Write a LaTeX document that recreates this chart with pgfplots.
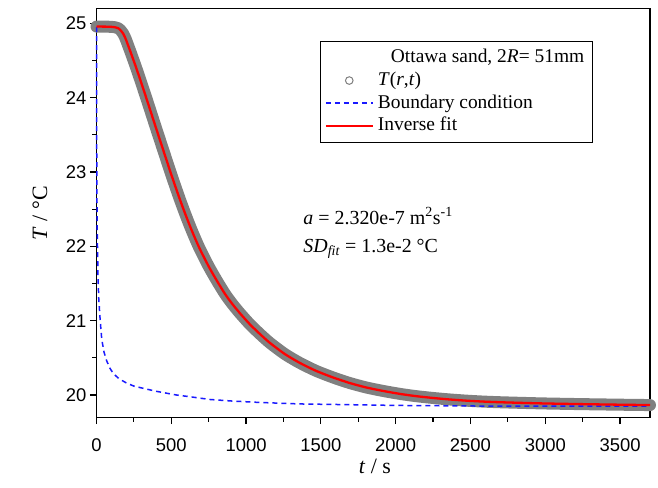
\documentclass[border=0pt]{standalone}
\usepackage{fontspec}
\setmainfont{Liberation Serif}
\newfontfamily\arial{Liberation Sans}
\usepackage{pgfplots}
\pgfplotsset{compat=1.18}
\definecolor{bcblue}{RGB}{25,25,255}
\pgfplotsset{
    seglegend/.style={legend image code/.code={\draw[##1] (0bp,0bp) -- (47bp,0bp);}},
    ringlegend/.style={legend image code/.code={\draw[##1] (23.5bp,0bp) circle (3.8bp);}},
}

\pgfplotstableread{
t T
0 24.957
60 24.956
100 24.953
125 24.947
145 24.935
162 24.905
179 24.86
190 24.815
201 24.76
212 24.70
224 24.635
257 24.45
291 24.25
324 24.05
358 23.84
403 23.56
447 23.29
491 23.02
525 22.818
558 22.628
592 22.443
625 22.272
659 22.108
692 21.96
750 21.73
804 21.54
859 21.36
906 21.23
959 21.10
1026 20.95
1093 20.82
1160 20.70
1260 20.55
1361 20.43
1468 20.325
1583 20.235
1695 20.16
1807 20.10
1916 20.055
2029 20.015
2136 19.985
2252 19.96
2363 19.94
2475 19.924
2584 19.912
2698 19.903
2965 19.888
3233 19.878
3500 19.870
3700 19.865
}\fitdata

\pgfplotstableread{
t T
0 24.95
2 22.9
5 22.2
10 21.6
15 21.3
23 21.05
35 20.75
50 20.58
68 20.46
90 20.36
112 20.29
150 20.22
202 20.16
250 20.12
313 20.09
400 20.05
536 20.00
650 19.97
759 19.94
900 19.92
1093 19.90
1360 19.88
1700 19.87
2000 19.86
2700 19.85
3700 19.85
}\bcdata

\begin{document}
\begin{tikzpicture}
\begin{axis}[
    scale only axis,
    width=553.5bp, height=409.2bp,
    xmin=0, xmax=3700,
    ymin=19.695, ymax=25.2,
    xtick={0,500,...,3500},
    ytick={20,21,...,25},
    minor x tick num=1,
    minor y tick num=1,
    tick pos=left,
    tick align=outside,
    major tick length=6.5bp,
    minor tick length=4bp,
    axis line style={line width=1.2bp},
    every tick/.style={black, line width=1.2bp},
    ticklabel style={font=\arial\fontsize{18.5}{20}\selectfont},
    xticklabel style={yshift=-11bp},
    /pgf/number format/assume math mode=true,
    /pgf/number format/1000 sep={},
    xlabel={\textit{t} / s},
    ylabel={\textit{T} / °C},
    label style={font=\fontsize{22}{24}\selectfont},
    xlabel style={at={(axis description cs:0.503,-0.118)}, anchor=center},
    ylabel style={at={(axis description cs:-0.102,0.5)}, anchor=center},
    clip=false,
    legend cell align=left,
    legend style={
        at={(axis description cs:0.404,0.9206)}, anchor=north west,
        draw=black, line width=1bp, fill=white,
        inner xsep=4bp, inner ysep=5bp,
        font=\fontsize{19.5}{22}\selectfont,
        nodes={inner xsep=4bp, inner ysep=2.75bp, text height=13.5bp, text depth=3.7bp},
    },
]
% measured points: dense open circles that merge into a band
\addplot[gray, line width=12bp, line cap=round, line join=round, smooth, tension=0.4, forget plot] table {\fitdata};
\addplot[bcblue, line width=1.5bp, dash pattern=on 5bp off 4bp, forget plot] table {\bcdata};
\addplot[red, line width=2.3bp, smooth, tension=0.4, forget plot] table {\fitdata};

\addlegendimage{empty legend}
\addlegendentry{\hspace*{13bp}Ottawa sand, 2\textit{R}= 51mm}
\addlegendimage{draw=gray, line width=1bp, ringlegend}
\addlegendentry{\textit{T}(\textit{r},\textit{t})}
\addlegendimage{draw=bcblue, line width=1.5bp, dash pattern=on 5bp off 4bp, seglegend}
\addlegendentry{Boundary condition}
\addlegendimage{draw=red, line width=2.3bp, seglegend}
\addlegendentry{Inverse fit}

\node[anchor=base west, font=\fontsize{20}{22}\selectfont] at (axis cs:1360,22.30)
    {\textit{a} = 2.320e-7 m\textsuperscript{2}s\textsuperscript{-1}};
\node[anchor=base west, font=\fontsize{20}{22}\selectfont] at (axis cs:1360,21.92)
    {\textit{SD}\textsubscript{\textit{fit}} = 1.3e-2 °C};
\end{axis}
\pgfresetboundingbox
\path ([xshift=-96.5bp,yshift=-69.3bp]current axis.south west) rectangle ([xshift=8bp,yshift=8.5bp]current axis.north east);
\end{tikzpicture}
\end{document}
